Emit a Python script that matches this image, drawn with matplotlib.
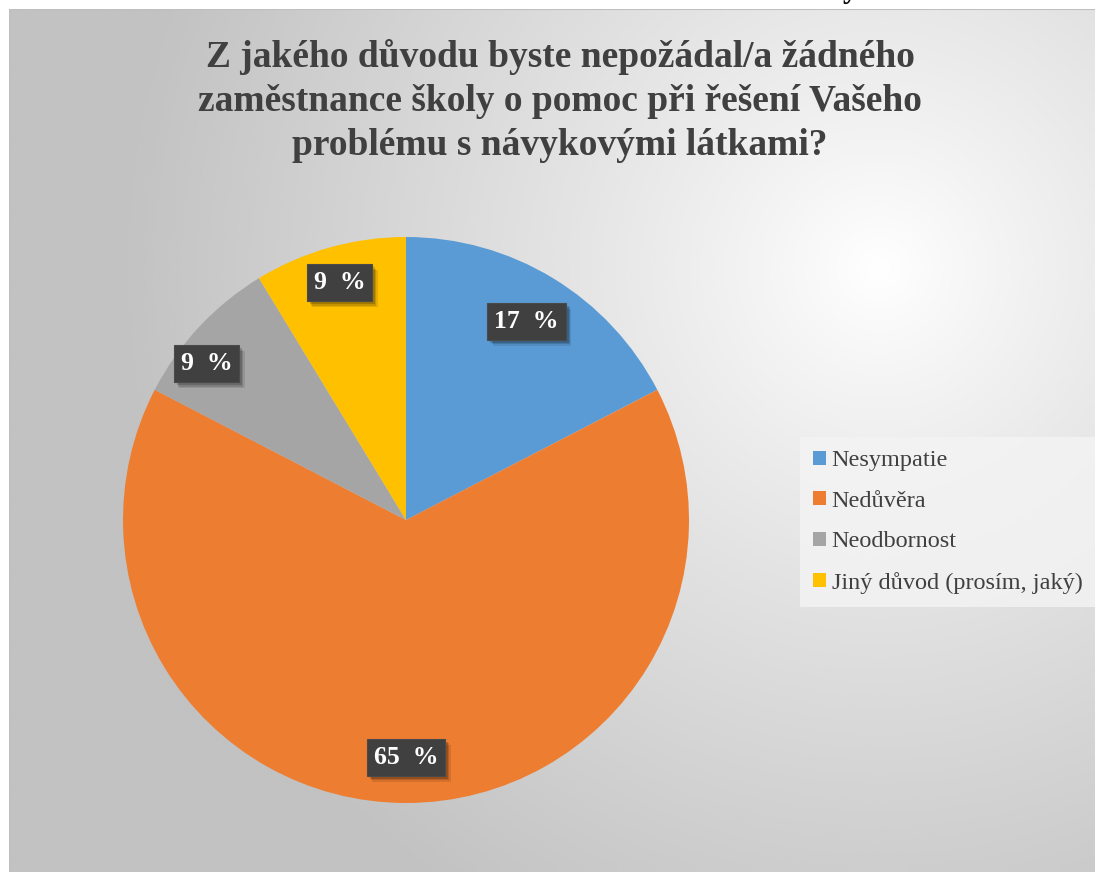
import numpy as np
import matplotlib
matplotlib.use("Agg")
import matplotlib.pyplot as plt
from matplotlib.patches import Patch

categories = ["Nesympatie", "Nedůvěra", "Neodbornost", "Jiný důvod (prosím, jaký)"]
counts = [4, 15, 2, 2]
colors = ["#5B9BD5", "#ED7D31", "#A5A5A5", "#FFC000"]
title = "Z jakého důvodu byste nepožádal/a žádného\nzaměstnance školy o pomoc při řešení Vašeho\nproblému s návykovými látkami?"
label_radius = [0.82, 0.84, 0.895, 0.87]
label_angle_shift = [0, 0, 5, 0]

W, H = 1095, 872
fig = plt.figure(figsize=(W / 100, H / 100), dpi=100)
fig.patch.set_facecolor("white")

# background with radial gradient
bg = fig.add_axes([9 / W, 0, (W - 9) / W, (H - 9) / H])
bg.set_axis_off()
ny, nx = 300, 400
yy, xx = np.mgrid[0:ny, 0:nx]
cx, cy = 0.80 * nx, 0.30 * ny
d = np.sqrt(((xx - cx) / nx) ** 2 + ((yy - cy) / ny * 0.8) ** 2)
g = np.clip(1.0 - 0.27 * (d / 0.8) ** 0.9, 0.76, 1.0)
bg.imshow(g, cmap="gray", vmin=0, vmax=1, aspect="auto", extent=[0, 1, 0, 1],
          origin="upper", interpolation="bicubic")
bg.set_xlim(0, 1)
bg.set_ylim(0, 1)
bg.plot([0, 0, 1], [0, 1, 1], color="#BFBFBF", lw=1.5, transform=bg.transAxes)

# partial text at the top (cut off)
fig.text(850 / W, 1.012, "y", fontsize=22, fontweight="bold", family="Liberation Serif",
         ha="center", va="center", color="black")

# pie
cxp, cyp, r = 406, 520, 283
ax = fig.add_axes([(cxp - r) / W, (H - cyp - r) / H, 2 * r / W, 2 * r / H])
ax.set_axis_off()
wedges, _ = ax.pie(counts, colors=colors, startangle=90, counterclock=False, radius=1,
                   wedgeprops=dict(linewidth=0))
ax.set_xlim(-1, 1)
ax.set_ylim(-1, 1)

total = sum(counts)
for w, c, lr, sh in zip(wedges, counts, label_radius, label_angle_shift):
    ang = np.deg2rad((w.theta1 + w.theta2) / 2 + sh)
    x, y = lr * np.cos(ang), lr * np.sin(ang)
    txt = f"{round(100 * c / total)}  %"
    for k, a in ((4, 0.10), (3, 0.14), (2, 0.18)):
        ax.annotate(txt, (x, y), xytext=(k, -k), textcoords="offset points",
                    ha="center", va="center", fontsize=18.5, fontweight="bold",
                    family="Liberation Serif", color=(0, 0, 0, 0),
                    bbox=dict(boxstyle="square,pad=0.27", fc=(0, 0, 0, a), ec="none"))
    ax.text(x, y, txt, ha="center", va="center", fontsize=18.5, fontweight="bold",
            family="Liberation Serif", color="white",
            bbox=dict(boxstyle="square,pad=0.27", fc="#404040", ec="#4A4A4A", lw=0.8))

# title
fig.text(560 / W, 1 - 101 / H, title, ha="center", va="center", fontsize=27,
         fontweight="bold", family="Liberation Serif", color="#404040",
         linespacing=1.33)

# legend
handles = [Patch(facecolor=c, edgecolor="none") for c in colors]
leg = fig.legend(handles, categories, loc="upper left",
                 bbox_to_anchor=(800 / W, 1 - 437 / H),
                 frameon=True, fancybox=False,
                 prop=dict(family="Liberation Serif", size=17.5),
                 handlelength=0.5, handleheight=0.5, handletextpad=0.25,
                 labelspacing=0.8, borderpad=0.55, borderaxespad=0)
leg.get_frame().set_facecolor("#F4F4F4")
leg.get_frame().set_edgecolor("none")
leg.get_frame().set_alpha(0.8)
for t in leg.get_texts():
    t.set_color("#404040")

fig.savefig("out.png", dpi=100)
